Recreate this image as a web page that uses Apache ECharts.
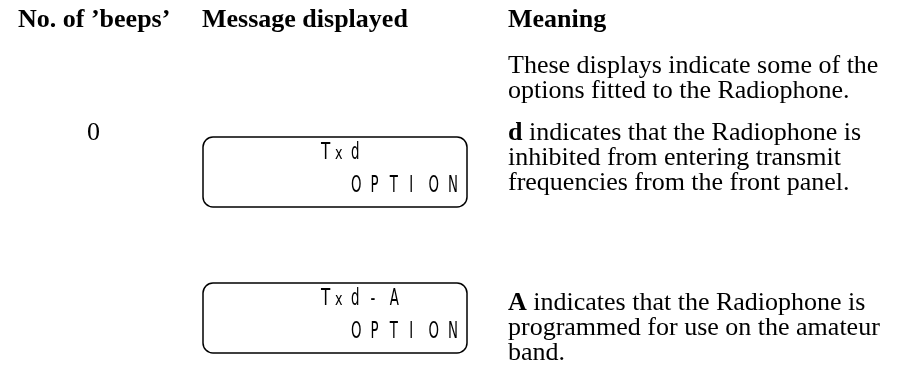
<!DOCTYPE html>
<html>
<head>
<meta charset="utf-8">
<script src="https://cdn.jsdelivr.net/npm/echarts@6/dist/echarts.min.js"></script>
<style>html,body{margin:0;padding:0;background:#fff;}#c{width:910px;height:381px;}</style>
</head>
<body>
<div id="c"></div>
<script>
// ---- content ----
var headers = ["No. of \u2019beeps\u2019", "Message displayed", "Meaning"];
var introLines = ["These displays indicate some of the", "options fitted to the Radiophone."];
var beeps = ["0", ""];
var lcdPrefix = ["T", "x"];
var lcdTop = [["d"], ["d", "-", "A"]];
var lcdBottom = ["O", "P", "T", "I", "O", "N"];
var meaningKey = ["d", "A"];
var meaningRest = [
  [" indicates that the Radiophone is", "inhibited from entering transmit", "frequencies from the front panel."],
  [" indicates that the Radiophone is", "programmed for use on the amateur", "band."]
];

var serif = "'Liberation Serif', 'Times New Roman', serif";
var lcdFont = "'DejaVu Sans', sans-serif";
var FS = 26, LH = 25;
var boxTop = [137, 283];
var textTop = [120.5, 290.5];
var boxX = 203, boxW = 264, boxH = 70;

var els = [];
function lcdChar(ch, x, y, size, sx) {
  els.push({type: 'text', x: x, y: y, scaleX: sx, style: {
    text: ch, x: 0, y: 0, verticalAlign: 'middle', align: 'left',
    font: 'normal ' + size + 'px ' + lcdFont, fill: '#000'}});
}
// headers
var hx = [18, 202, 508];
headers.forEach(function (h, i) {
  els.push({type: 'text', left: hx[i], top: 7.5, style: {text: h, font: 'bold ' + FS + 'px ' + serif, lineHeight: LH, fill: '#000'}});
});
// intro
els.push({type: 'text', left: 508, top: 53.5, style: {text: introLines.join('\n'), font: FS + 'px ' + serif, lineHeight: LH, fill: '#000'}});

for (var r = 0; r < 2; r++) {
  if (beeps[r]) {
    els.push({type: 'text', left: 87, top: textTop[r], style: {text: beeps[r], font: FS + 'px ' + serif, lineHeight: LH, fill: '#000'}});
  }
  var by = boxTop[r];
  els.push({type: 'rect', shape: {x: boxX, y: by, width: boxW, height: boxH, r: 10},
    style: {fill: 'none', stroke: '#000', lineWidth: 1.5}});
  var y1 = by + 16, y2 = by + 49;
  lcdChar(lcdPrefix[0], 321, y1, 23, 0.66);
  lcdChar(lcdPrefix[1], 335, y1 + 2, 17, 0.75);
  lcdTop[r].forEach(function (ch, i) { lcdChar(ch, 351 + i * 19.4, y1, 23, 0.58); });
  lcdBottom.forEach(function (ch, i) { lcdChar(ch, 351 + i * 19.4, y2, 23, 0.58); });
  // meaning
  els.push({type: 'text', left: 508, top: textTop[r], style: {
    text: '{b|' + meaningKey[r] + '}' + meaningRest[r].join('\n'),
    rich: {b: {font: 'bold ' + FS + 'px ' + serif, lineHeight: LH, fill: '#000'}},
    font: FS + 'px ' + serif, lineHeight: LH, fill: '#000'}});
}

var chart = echarts.init(document.getElementById('c'), null, {renderer: 'canvas'});
chart.setOption({backgroundColor: '#fff', animation: false, graphic: els});
</script>
</body>
</html>
